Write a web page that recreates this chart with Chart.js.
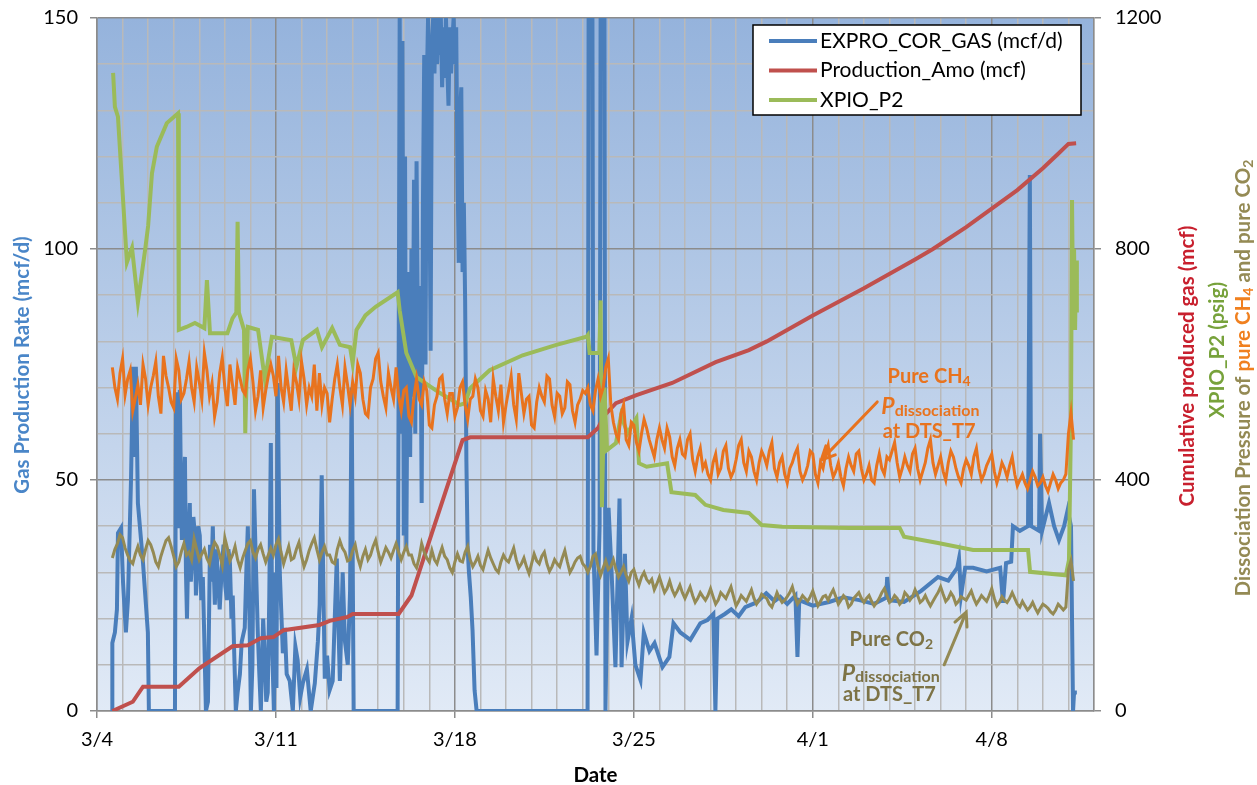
<!DOCTYPE html>
<html>
<head>
<meta charset="utf-8">
<title>Gas production</title>
<script src="https://cdn.jsdelivr.net/npm/chart.js@4.4.1/dist/chart.umd.min.js"></script>
<style>
  html, body { margin: 0; padding: 0; background: #fff; }
  #wrap { width: 1257px; height: 785px; position: relative; }
</style>
</head>
<body>
<div id="wrap"><canvas id="chart"></canvas></div>
<script>
// Days since 3/4 on the x axis, tick labels every 7 days
const dateLabels = ["3/4", "3/11", "3/18", "3/25", "4/1", "4/8"];

// EXPRO_COR_GAS (mcf/d), left axis
const blueDays = [0.59, 0.60, 0.70, 0.78, 0.82, 0.94, 1.02, 1.13, 1.21, 1.33, 1.41, 1.47, 1.52, 1.60, 1.80, 1.99, 2.03,
  3.05, 3.09, 3.13, 3.17, 3.20, 3.24, 3.28, 3.32, 3.38, 3.44, 3.48, 3.52, 3.58, 3.63, 3.67, 3.71, 3.77, 3.83, 3.87, 3.91,
  3.96, 4.02, 4.08, 4.14, 4.20, 4.26, 4.34, 4.42, 4.47, 4.53, 4.57, 4.61, 4.67, 4.73, 4.80, 4.88, 4.95, 5.02, 5.08, 5.14,
  5.20, 5.26, 5.31, 5.37, 5.43,
  5.50, 5.59, 5.66, 5.78, 5.84, 5.90, 5.96, 6.02, 6.08, 6.14, 6.20, 6.29, 6.35, 6.41, 6.50, 6.57, 6.62, 6.68, 6.74, 6.80,
  6.86, 6.92, 6.98, 7.02, 7.07, 7.15, 7.27, 7.35, 7.42, 7.54, 7.66, 7.76, 7.85, 7.95, 8.05, 8.21, 8.36, 8.52, 8.64, 8.71,
  8.79, 8.91, 9.00, 9.10, 9.22, 9.30, 9.38, 9.50, 9.61, 9.70, 9.81, 9.90, 9.96, 10.04,
  11.76, 11.84, 11.90, 11.95, 12.00, 12.05, 12.10, 12.15, 12.20, 12.25, 12.30, 12.35, 12.40, 12.45, 12.50, 12.55, 12.60,
  12.65, 12.70, 12.75, 12.80, 12.85, 12.90, 12.95, 13.00, 13.05, 13.10, 13.15, 13.20, 13.25, 13.30, 13.35, 13.40, 13.45,
  13.50, 13.55, 13.60, 13.65, 13.70, 13.75, 13.80, 13.85, 13.90, 13.95, 14.00, 14.05, 14.10, 14.15, 14.20, 14.25, 14.30,
  14.35, 14.40, 14.45, 14.50, 14.55, 14.62, 14.69, 14.77, 14.85,
  19.19, 19.23, 19.38, 19.42, 19.54, 19.66, 19.70, 19.85, 19.89, 20.01, 20.13, 20.28, 20.44, 20.52, 20.65, 20.75, 20.91,
  21.06, 21.26, 21.39, 21.61, 21.81, 22.12, 22.39, 22.55, 22.82, 23.21, 23.60, 23.88, 24.11, 24.19, 24.27, 24.56, 24.81,
  25.10, 25.36, 25.80, 26.18, 26.50, 26.73, 27.00, 27.32, 27.40, 27.47, 28.00, 28.64, 29.20, 29.82, 30.40, 30.87, 30.91,
  30.99, 31.57, 32.24, 32.90, 33.30, 33.65, 33.72, 33.80, 33.96, 34.27, 34.80, 35.33, 35.44, 35.56, 35.76, 35.83, 36.10,
  36.42, 36.49, 36.54, 36.85, 36.89, 36.97, 37.24, 37.44, 37.63, 37.83, 37.97, 38.10, 38.18, 38.22, 38.33];
const blueRate = [0, 14.7, 17, 22, 38.5, 39.6, 27.7, 17, 24, 50, 74.5, 55, 74.5, 45, 32, 17, 0,
  0, 69, 45, 40, 62, 69.5, 50, 37, 48, 55, 30, 20, 38, 45, 28, 32, 42, 38, 25, 29,
  40, 38, 24, 29, 15, 0, 2, 36, 28, 40, 30, 23, 35, 29, 22, 31, 36, 27, 24, 35,
  32, 20, 25, 12, 0,
  4, 8, 15, 18, 30, 40, 22, 0, 10, 48, 35, 17, 8, 0, 20, 11, 2, 4, 25, 58,
  12, 0, 30, 5, 71, 30, 12.5, 18, 8, 6.5, 0, 14, 11, 3, 6, 9, 0, 6, 15, 23,
  51, 7, 12, 4.5, 6.5, 20, 33, 6.5, 30, 15, 10, 26, 70, 0,
  0, 150, 60, 145, 38, 120, 35, 80, 95, 55, 100, 68, 115, 60, 119, 85, 70,
  92, 45, 110, 142, 75, 135, 150, 120, 78, 145, 150, 138, 150, 140, 150, 142, 150,
  135, 148, 137, 150, 140, 131, 148, 138, 145, 150, 140, 148, 118, 97, 129, 135, 95,
  110, 89, 54, 35, 30, 24.7, 17.5, 4.5, 0,
  0, 150, 150, 35, 12, 40, 150, 150, 0, 44, 30, 9.5, 46, 9.5, 34, 15, 20,
  10, 6.7, 17, 13, 14.7, 9.5, 11.7, 19, 17, 15.4, 19, 19.7, 21, 0, 20, 21, 22,
  20.5, 22.5, 23.5, 25.5, 23.8, 24.7, 23.2, 25, 11.7, 24, 22.8, 23.6, 24.6, 24, 23.2, 24.5, 29,
  24, 23.6, 26, 29, 28.2, 31, 33, 25, 31, 31, 30.2, 31, 23.4, 32, 32.3, 40, 39,
  40, 116, 40, 39, 60, 39, 45, 40, 37, 40, 43.5, 40, 0, 4, 4];

// Production_Amo (mcf), right axis
const redDays = [0.6, 1.4, 1.8, 3.2, 4.0, 5.3, 5.9, 6.4, 6.9, 7.3, 8.7, 9.1, 9.8, 10.0, 11.8, 12.3, 13.1, 14.3, 14.6,
  19.2, 19.6, 19.85, 20.3, 21.1, 22.5, 24.2, 25.5, 26.2, 28, 30, 32, 32.7, 34, 35, 36, 37, 37.6, 38.0, 38.3];
const redCum = [0, 16, 42, 42, 74, 112, 114, 126, 128, 140, 149, 156, 163, 168, 168, 200, 308, 469, 474,
  474, 490, 512, 533, 547, 568, 604, 625, 640, 685, 732, 782, 800, 838, 870, 902, 940, 965, 982, 983];

// XPIO_P2 (psig), right axis
const greenDays = [0.63, 0.70, 0.82, 1.17, 1.37, 1.60, 1.88, 2.00, 2.15, 2.34, 2.73, 3.17, 3.20, 3.50, 3.83, 4.20, 4.30,
  4.42, 5.10, 5.30, 5.45, 5.50, 5.55, 5.75, 5.80, 5.90, 6.30, 6.57, 6.84, 7.60, 7.80, 8.05, 8.60, 8.80, 9.20, 9.50, 9.90,
  10.00, 10.15, 10.50, 10.90, 11.76, 11.84, 12.10, 12.50, 13.40, 14.20, 14.40, 14.60, 15.36, 16.65, 17.97, 19.15, 19.20,
  19.27, 19.65, 19.70, 19.75, 19.85, 19.95, 20.30, 20.50, 20.75, 21.10, 21.20, 21.50, 22.30, 22.47, 23.40, 23.80, 24.50,
  25.50, 26.00, 26.80, 29.40, 31.40, 31.57, 32.90, 34.27, 36.42, 36.50, 37.90, 38.02, 38.10, 38.14, 38.18, 38.22, 38.26,
  38.30, 38.33];
const greenP2 = [1105, 1046, 1029, 777, 802, 708, 798, 840, 931, 977, 1018, 1035, 660, 665, 672, 663, 746,
  654, 654, 680, 690, 847, 690, 660, 481, 665, 660, 573, 648, 642, 596, 642, 660, 630, 663, 634, 630,
  602, 660, 685, 700, 725, 694, 620, 578, 551, 530, 533, 559, 590, 616, 634, 648, 651,
  620, 620, 711, 353, 560, 452, 464, 512, 481, 507, 429, 423, 429, 379, 374, 357, 348,
  343, 322, 319, 317, 317, 302, 291, 279, 279, 241, 235, 261, 500, 885, 700, 800, 660,
  780, 690];

// Dissociation pressures (psig), sampled every 0.1 day from day 0.6
const noiseStart = 0.6;
const noiseStep = 0.1;
const ch4Pressure = [
  595, 560, 540, 585, 610, 548, 575, 590, 520, 542, 565, 530, 600, 575, 530, 560, 580, 605, 545, 515,
  615, 580, 560, 535, 525, 610, 590, 540, 550, 575, 605, 560, 535, 595, 570, 540, 620, 590, 545, 568,
  510, 535, 585, 612, 560, 528, 600, 565, 530, 595, 575, 555, 548, 590, 610, 570, 520, 545, 590, 525,
  555, 580, 600,
  580, 545, 615, 560, 535, 590, 555, 520, 590, 570, 540, 605, 575, 530, 560, 545, 600, 520, 585, 530,
  560, 550, 500, 540, 575, 600, 560, 530, 595, 565, 530, 570, 545, 600, 585, 540, 515, 510, 560, 575,
  610, 620, 570, 545, 525, 585, 560, 540, 595, 545,
  520, 555, 560, 510, 500, 545, 575, 540, 530, 570, 555, 495, 490, 530, 545, 575, 580, 540, 515, 550,
  550, 510, 525, 560, 570, 530, 505, 540, 545, 575, 560, 520, 510, 555, 540, 500, 575, 545, 520, 565,
  500, 530, 555, 580, 530, 505, 585, 550, 515, 540, 545, 495, 490, 535, 560, 545, 535, 580, 575, 530,
  510, 550, 545, 515, 525, 570, 565, 520, 500, 530, 540, 555,
  550, 560, 530, 520, 555, 575, 545, 560, 595, 610,
  530, 500, 480, 470, 515, 530, 470, 460, 500, 495,
  465, 450, 480, 505, 490, 470, 455, 440, 470, 490,
  470, 455, 490, 475, 440, 425, 455, 470, 445, 440,
  470, 480, 435, 415, 440, 455, 420, 430, 410, 400,
  430, 445, 410, 420, 450, 460, 420, 405, 415, 435,
  460, 470, 430, 415, 450, 440, 415, 400, 430, 450,
  440, 425, 450, 465, 420, 405, 430, 440, 410, 395,
  420, 430, 445, 455, 415, 400, 410, 425, 450, 445,
  410, 395, 430, 420, 445, 460, 425, 405, 415, 430,
  405, 390, 420, 440, 425, 415, 445, 450, 420, 400,
  410, 425, 400, 395, 425, 445, 420, 410, 440, 435,
  450, 465, 430, 405, 420, 440, 425, 415, 445, 455,
  420, 400, 415, 430, 455, 470, 430, 410, 425, 440,
  415, 400, 430, 450, 440, 420, 405, 395, 420, 435,
  425, 410, 440, 455, 420, 400, 410, 425, 435, 445,
  415, 395, 410, 430, 420, 405, 425, 440, 410, 390,
  400, 410, 395, 385, 400, 415, 405, 390, 395, 405,
  390, 380, 395, 410, 400, 385, 395, 400, 410, 480,
  516, 470];
const co2Pressure = [
  265, 280, 290, 305, 300, 282, 270, 260, 255, 272, 285, 270, 262, 280, 295, 288, 275, 258, 250, 268,
  282, 295, 300, 285, 268, 250, 258, 276, 290, 270, 275, 262, 298, 280, 262, 272, 280, 264, 255, 278,
  292, 285, 270, 252, 300, 282, 260, 270, 285, 262, 248, 265, 278, 290, 295, 275, 265, 280, 288, 272,
  258, 270, 282,
  270, 288, 298, 275, 255, 270, 285, 262, 265, 280, 292, 268, 250, 262, 278, 290, 300, 280, 262, 275,
  285, 270, 270, 258, 255, 280, 295, 282, 275, 260, 262, 278, 288, 265, 250, 268, 280, 262, 270, 285,
  296, 275, 258, 270, 283, 275, 265, 278, 290, 275,
  262, 275, 285, 270, 270, 255, 248, 265, 290, 275, 265, 258, 278, 262, 255, 270, 283, 268, 262, 248,
  240, 258, 272, 260, 258, 275, 285, 262, 250, 258, 268, 252, 245, 262, 278, 265, 255, 245, 240, 258,
  270, 262, 258, 270, 282, 262, 248, 255, 265, 250, 238, 255, 272, 260, 255, 268, 275, 255, 242, 250,
  262, 255, 250, 265, 278, 258, 240, 248, 258, 265, 268, 255,
  250, 240, 250, 268, 272, 250, 235, 248, 260, 245,
  250, 262, 245, 232, 240, 250, 235, 225, 240, 245,
  230, 218, 232, 240, 228, 222, 228, 210, 220, 232,
  218, 205, 212, 225, 210, 200, 208, 218, 205, 195,
  205, 215, 200, 188, 195, 205, 198, 192, 200, 212,
  198, 185, 192, 205, 200, 195, 205, 215, 198, 182,
  190, 200, 195, 190, 200, 210, 195, 185, 192, 202,
  198, 195, 185, 180, 192, 205, 195, 188, 192, 198,
  205, 215, 198, 185, 192, 200, 195, 190, 198, 208,
  195, 182, 190, 198, 200, 192, 202, 210, 198, 185,
  192, 200, 195, 180, 185, 195, 200, 205, 195, 188,
  195, 200, 190, 182, 188, 195, 205, 212, 200, 188,
  192, 200, 195, 185, 190, 205, 200, 192, 198, 210,
  200, 188, 192, 200, 190, 182, 190, 198, 205, 215,
  202, 190, 195, 205, 198, 185, 190, 198, 195, 192,
  200, 208, 195, 185, 192, 200, 195, 190, 200, 212,
  195, 182, 188, 198, 192, 188, 195, 205, 195, 185,
  180, 190, 182, 175, 180, 188, 178, 170, 178, 185,
  182, 178, 172, 168, 175, 185, 180, 175, 180, 245,
  260, 225];

const legendNames = ["EXPRO_COR_GAS (mcf/d)", "Production_Amo (mcf)", "XPIO_P2"];
const colors = { blue: "#4a7ebb", red: "#c0504d", green: "#9bbb59", orange: "#e8731e", olive: "#948a54" };

const toPoints = (xs, ys) => xs.map((x, i) => ({ x: x, y: ys[i] }));
const noisePoints = (ys) => ys.map((y, i) => ({ x: +(noiseStart + i * noiseStep).toFixed(2), y: y }));

const majorGrid = "#8c8c8c";
const minorGrid = "#b9b9b9";
const tickFont = { family: "Lato", size: 20 };

// fixed axis sizes so the plot area lands where the original has it
const fitY = (w) => (s) => {
  s.width = w;
  s.paddingTop = 0;
  s.paddingBottom = 0;
};

// Blue gradient behind the plot
const backdrop = {
  id: "backdrop",
  beforeDraw(chart) {
    const { ctx, chartArea: a } = chart;
    const g = ctx.createLinearGradient(0, a.top, 0, a.bottom);
    g.addColorStop(0, "#95b3dc");
    g.addColorStop(1, "#e1eaf6");
    ctx.save();
    ctx.fillStyle = g;
    ctx.fillRect(a.left, a.top, a.right - a.left, a.bottom - a.top);
    ctx.restore();
  },
};

// Draw text pieces with their own font / colour, centred on cx
const drawRuns = (ctx, runs, cx, cy) => {
  let total = 0;
  runs.forEach((r) => {
    ctx.font = r.font;
    r.w = ctx.measureText(r.text).width;
    total += r.w;
  });
  let x = cx - total / 2;
  ctx.textBaseline = "middle";
  ctx.textAlign = "left";
  runs.forEach((r) => {
    ctx.font = r.font;
    ctx.fillStyle = r.color;
    ctx.fillText(r.text, x, cy + (r.dy || 0));
    x += r.w;
  });
};

const drawRotated = (ctx, runs, cx, cy) => {
  ctx.save();
  ctx.translate(cx, cy);
  ctx.rotate(-Math.PI / 2);
  drawRuns(ctx, runs, 0, 0);
  ctx.restore();
};

const arrow = (ctx, x1, y1, x2, y2, color) => {
  const a = Math.atan2(y2 - y1, x2 - x1);
  const h = 15;
  ctx.strokeStyle = color;
  ctx.lineWidth = 3;
  ctx.lineCap = "round";
  ctx.beginPath();
  ctx.moveTo(x1, y1);
  ctx.lineTo(x2, y2);
  ctx.moveTo(x2 - h * Math.cos(a - 0.45), y2 - h * Math.sin(a - 0.45));
  ctx.lineTo(x2, y2);
  ctx.lineTo(x2 - h * Math.cos(a + 0.45), y2 - h * Math.sin(a + 0.45));
  ctx.stroke();
};

const TITLE = "bold 20.5px Lato";
const B = "bold 20px Lato";
const SUB = "bold 14px Lato";

// Legend box, axis titles, annotations
const extras = {
  id: "extras",
  afterDraw(chart) {
    const { ctx, chartArea: a, scales } = chart;
    const sx = (d) => scales.x.getPixelForValue(d);
    const sy = (v) => scales.y.getPixelForValue(v);
    ctx.save();

    // legend
    const lx = a.right - 341, ly = a.top + 7;
    ctx.fillStyle = "#fff";
    ctx.fillRect(lx, ly, 328, 90);
    ctx.strokeStyle = "#000";
    ctx.lineWidth = 1.5;
    ctx.strokeRect(lx, ly, 328, 90);
    const legendColors = [colors.blue, colors.red, colors.green];
    legendNames.forEach((name, i) => {
      const y = ly + 16 + i * 29.5;
      ctx.strokeStyle = legendColors[i];
      ctx.lineWidth = 4;
      ctx.beginPath();
      ctx.moveTo(lx + 16, y);
      ctx.lineTo(lx + 64, y);
      ctx.stroke();
      ctx.fillStyle = "#000";
      ctx.font = "21px Lato";
      ctx.textAlign = "left";
      ctx.textBaseline = "middle";
      ctx.fillText(name, lx + 67, y);
    });

    // axis titles
    drawRuns(ctx, [{ text: "Date", font: TITLE, color: "#000" }], (a.left + a.right) / 2, 775);
    drawRotated(ctx, [{ text: "Gas Production Rate (mcf/d)", font: TITLE, color: "#4a86c8" }], 22, 365);
    drawRotated(ctx, [{ text: "Cumulative produced gas (mcf)", font: TITLE, color: "#c8202e" }], a.right + 93, 366);
    drawRotated(ctx, [{ text: "XPIO_P2 (psig)", font: TITLE, color: "#77a23b" }], a.right + 123, 350);
    drawRotated(ctx, [
      { text: "Dissociation Pressure of ", font: TITLE, color: colors.olive },
      { text: "pure CH", font: TITLE, color: "#f0801f" },
      { text: "4", font: SUB, color: "#f0801f", dy: 5 },
      { text: " and pure CO", font: TITLE, color: colors.olive },
      { text: "2", font: SUB, color: colors.olive, dy: 5 },
    ], a.right + 149, 378);

    // CH4 note
    const oc = colors.orange;
    drawRuns(ctx, [{ text: "Pure CH", font: B, color: oc }, { text: "4", font: SUB, color: oc, dy: 5 }], sx(32.55), sy(72.5));
    drawRuns(ctx, [{ text: "P", font: "italic bold 23px Lato", color: oc }, { text: "dissociation", font: "bold 16px Lato", color: oc, dy: 4 }], sx(32.6), sy(65.8));
    drawRuns(ctx, [{ text: "at DTS_T7", font: B, color: oc }], sx(32.55), sy(60.4));
    arrow(ctx, sx(30.52), sy(66.9), sx(28.33), sy(54.3), oc);

    // CO2 note
    const tc = "#7d7346";
    drawRuns(ctx, [{ text: "Pure CO", font: B, color: tc }, { text: "2", font: SUB, color: tc, dy: 5 }], sx(31.07), sy(15.4));
    drawRuns(ctx, [{ text: "P", font: "italic bold 23px Lato", color: tc }, { text: "dissociation", font: "bold 16px Lato", color: tc, dy: 4 }], sx(31.05), sy(8.2));
    drawRuns(ctx, [{ text: "at DTS_T7", font: B, color: tc }], sx(31.0), sy(3.5));
    arrow(ctx, sx(33.14), sy(10.0), sx(34.0), sy(21.4), colors.olive);

    ctx.restore();
  },
};

const line = (data, color, axis, order, width) => ({
  data: data,
  borderColor: color,
  borderWidth: width,
  yAxisID: axis,
  order: order,
  pointRadius: 0,
  tension: 0,
  fill: false,
});

new Chart(document.getElementById("chart"), {
  type: "line",
  plugins: [backdrop, extras],
  data: {
    datasets: [
      line(toPoints(blueDays, blueRate), colors.blue, "y", 5, 4),
      line(toPoints(redDays, redCum), colors.red, "y1", 4, 4),
      line(toPoints(greenDays, greenP2), colors.green, "y1", 3, 4),
      line(noisePoints(ch4Pressure), colors.orange, "y1", 2, 3),
      line(noisePoints(co2Pressure), colors.olive, "y1", 1, 3),
    ],
  },
  options: {
    responsive: true,
    maintainAspectRatio: false,
    animation: false,
    layout: { padding: { top: 18 } },
    plugins: { legend: { display: false }, tooltip: { enabled: false } },
    scales: {
      x: {
        type: "linear",
        min: 0,
        max: 39,
        afterFit: (s) => { s.height = 74; },
        ticks: {
          stepSize: 1,
          autoSkip: false,
          maxRotation: 0,
          padding: 10,
          color: "#000",
          font: tickFont,
          callback: (v) => (v % 7 === 0 ? dateLabels[v / 7] : ""),
        },
        grid: {
          color: (c) => (c.tick && c.tick.value % 7 === 0 ? majorGrid : minorGrid),
          lineWidth: 1.5,
          tickLength: 7,
          tickColor: (c) => (c.tick && c.tick.value % 7 === 0 ? majorGrid : "rgba(0,0,0,0)"),
        },
        border: { color: majorGrid, width: 1.5 },
      },
      y: {
        position: "left",
        min: 0,
        max: 150,
        afterFit: fitY(97),
        ticks: {
          stepSize: 5,
          padding: 12,
          color: "#000",
          font: tickFont,
          callback: (v) => (v % 25 === 0 ? v : ""),
        },
        grid: {
          color: (c) => (c.tick && c.tick.value % 25 === 0 ? majorGrid : minorGrid),
          lineWidth: 1.5,
          tickLength: 7,
          tickColor: (c) => (c.tick && c.tick.value % 25 === 0 ? majorGrid : "rgba(0,0,0,0)"),
        },
        border: { color: majorGrid, width: 1.5 },
      },
      y1: {
        position: "right",
        min: 0,
        max: 1200,
        afterFit: fitY(163),
        ticks: {
          stepSize: 40,
          padding: 14,
          color: "#000",
          font: tickFont,
          callback: (v) => (v % 200 === 0 ? v : ""),
        },
        grid: {
          drawOnChartArea: false,
          tickLength: 7,
          lineWidth: 1.5,
          tickColor: (c) => (c.tick && c.tick.value % 200 === 0 ? majorGrid : "rgba(0,0,0,0)"),
        },
        border: { color: majorGrid, width: 1.5 },
      },
    },
  },
});
</script>
</body>
</html>
